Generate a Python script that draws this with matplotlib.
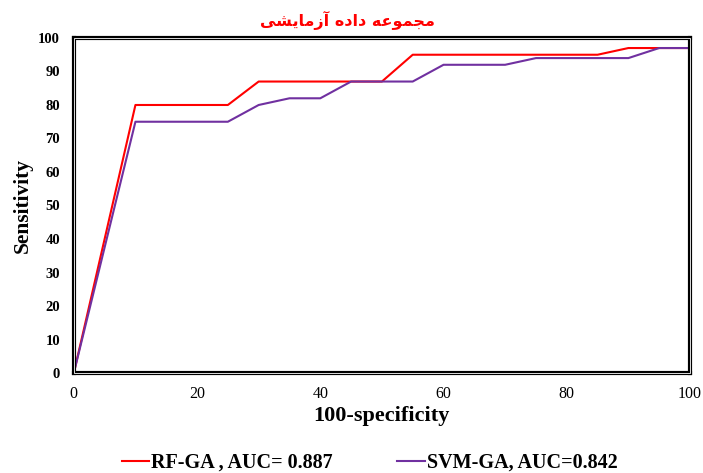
import matplotlib
matplotlib.use("Agg")
import matplotlib.pyplot as plt
from matplotlib.patches import Rectangle

# ROC points
fpr_rf = [0, 10, 25, 30, 45, 50, 55, 85, 90, 100]
tpr_rf = [0, 80, 80, 87, 87, 87, 95, 95, 97, 97]
fpr_svm = [0, 10, 25, 30, 35, 40, 45, 55, 60, 70, 75, 90, 95, 100]
tpr_svm = [0, 75, 75, 80, 82, 82, 87, 87, 92, 92, 94, 94, 97, 97]
label_rf = 'RF-GA , AUC= 0.887'
label_svm = 'SVM-GA, AUC=0.842'

# title "مجموعه داده آزمایشی" in shaped presentation forms, visual order
title_logical = ('\uFEE3\uFEA0\uFEE4\uFEEE\uFECB\uFEEA' + ' ' +
                 '\uFEA9\uFE8D\uFEA9\uFEE9' + ' ' +
                 '\uFE81\uFEAF\uFEE3\uFE8E\uFBFE\uFEB8\uFBFD')
title_visual = title_logical[::-1]

plt.rcParams['font.family'] = ['Liberation Serif', 'DejaVu Serif']

fig = plt.figure(figsize=(7.03, 4.73), dpi=100)
ax = fig.add_axes([0.105, 0.2114, 0.8765, 0.7083])

ax.plot(fpr_rf, tpr_rf, color='#ff0000', linewidth=1.5, label=label_rf)
ax.plot(fpr_svm, tpr_svm, color='#7030a0', linewidth=1.5, label=label_svm)

ax.set_xlim(0, 100)
ax.set_ylim(0, 100)
ax.set_xticks(range(0, 101, 20))
ax.set_yticks(range(0, 101, 10))
ax.tick_params(axis='x', length=0, pad=9)
ax.tick_params(axis='y', length=0, pad=10)
for t in ax.get_xticklabels():
    t.set_fontsize(11.5)
for t in ax.get_yticklabels():
    t.set_fontsize(10.5)
    t.set_fontweight('bold')
for s in ax.spines.values():
    s.set_linewidth(3)
    s.set_color('black')
# thin white line inside the thick frame (double border look)
ax.add_patch(Rectangle((0, 0), 1, 1, transform=ax.transAxes, fill=False,
                       edgecolor='white', linewidth=0.6, clip_on=False, zorder=3))

ax.set_xlabel('100-specificity', fontsize=16, fontweight='bold', labelpad=3)
ax.set_ylabel('Sensitivity', fontsize=15.5, fontweight='bold', labelpad=4)

fig.text(0.494, 0.957, title_visual, color='#ff0000', fontsize=11.5,
         fontweight='bold', family=['DejaVu Sans'], ha='center', va='center')

fig.legend(loc='center', bbox_to_anchor=(0.526, 0.022), ncol=2, frameon=False,
           prop={'weight': 'bold', 'size': 14.5}, handlelength=1.35,
           handletextpad=0.1, columnspacing=3.2)

fig.savefig('out.png', dpi=100)
